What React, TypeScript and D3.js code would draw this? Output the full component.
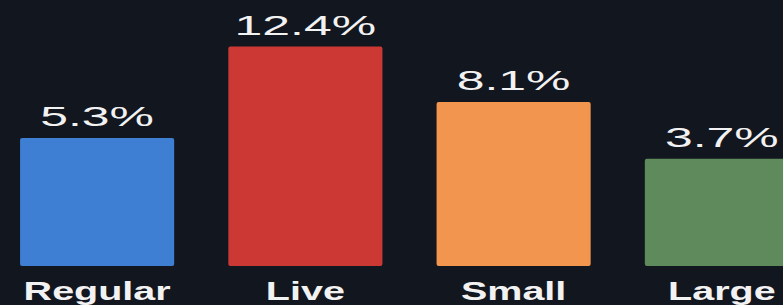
import React, {useEffect, useRef} from 'react'
import * as d3 from 'd3'

const categories = ['Regular', 'Live', 'Small', 'Large']
const rates = [5.3, 12.4, 8.1, 3.7]
const valueLabels = ['5.3%', '12.4%', '8.1%', '3.7%']
const colors = ['#3f7fd3', '#cc3934', '#f1954f', '#5f8a5c']

const App = () => {
  const chartRef = useRef<HTMLDivElement>(null)

  useEffect(() => {
    const width = 783
    const height = 305
    const baseline = 266

    const svg = d3.select(chartRef.current)
      .append('svg')
      .attr('width', width)
      .attr('height', height)
      .style('position', 'absolute')
      .style('left', 0)
      .style('top', 0)
      .style('background', '#12161f')

    // bands fitted to the picture (the right bar runs off the edge)
    const scaleX = d3.scaleBand()
      .domain(categories)
      .range([-7, 826])
      .paddingInner(0.26)
      .paddingOuter(0.13)

    // the picture's bars do not start from zero
    const scaleY = d3.scaleLinear()
      .domain([-4.62, 12.4])
      .range([baseline, 46.5])

    const rows = categories.map((c, i) => ({c, v: rates[i], label: valueLabels[i], color: colors[i]}))

    svg.selectAll('rect.bar')
      .data(rows)
      .enter()
      .append('rect')
      .attr('class', 'bar')
      .attr('x', d => scaleX(d.c)!)
      .attr('y', d => scaleY(d.v))
      .attr('width', scaleX.bandwidth())
      .attr('height', d => baseline - scaleY(d.v))
      .attr('rx', 2)
      .attr('fill', d => d.color)

    // value labels, stretched wide like the source
    svg.selectAll('text.value')
      .data(rows)
      .enter()
      .append('text')
      .attr('class', 'value')
      .attr('transform', d => 'translate(' + (scaleX(d.c)! + scaleX.bandwidth() / 2) + ',' + (scaleY(d.v) - 12) + ') scale(1.85,1)')
      .attr('text-anchor', 'middle')
      .attr('font-family', 'Liberation Sans, Arial, sans-serif')
      .attr('font-size', 27)
      .attr('fill', '#f2f2f2')
      .text(d => d.label)

    // category labels
    svg.selectAll('text.cat')
      .data(rows)
      .enter()
      .append('text')
      .attr('class', 'cat')
      .attr('transform', d => 'translate(' + (scaleX(d.c)! + scaleX.bandwidth() / 2) + ',300) scale(1.58,1)')
      .attr('text-anchor', 'middle')
      .attr('font-family', 'Liberation Sans, Arial, sans-serif')
      .attr('font-weight', 'bold')
      .attr('font-size', 25)
      .attr('fill', '#f2f2f2')
      .text(d => d.c)

    return () => {
      d3.select(chartRef.current).select('svg').remove()
    }
  }, [])

  return <div ref={chartRef}></div>
}

export default App
